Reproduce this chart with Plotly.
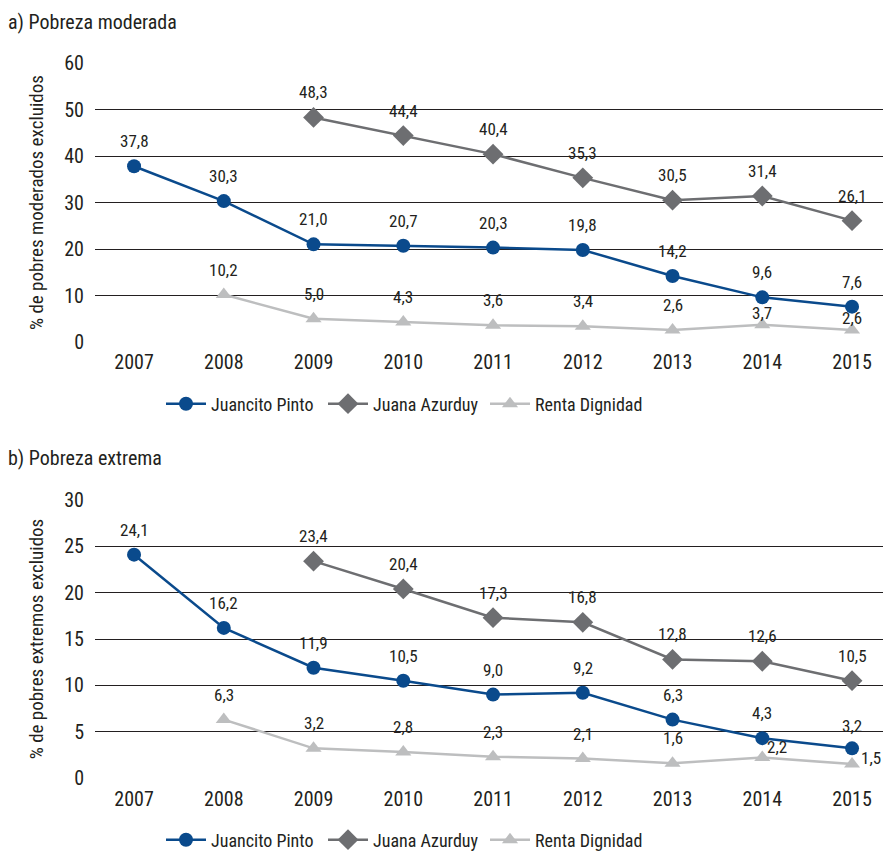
import plotly.graph_objects as go

# --- data ---
years = ['2007', '2008', '2009', '2010', '2011', '2012', '2013', '2014', '2015']

mod_juancito = [37.8, 30.3, 21.0, 20.7, 20.3, 19.8, 14.2, 9.6, 7.6]
mod_juana = [None, None, 48.3, 44.4, 40.4, 35.3, 30.5, 31.4, 26.1]
mod_renta = [None, 10.2, 5.0, 4.3, 3.6, 3.4, 2.6, 3.7, 2.6]

ext_juancito = [24.1, 16.2, 11.9, 10.5, 9.0, 9.2, 6.3, 4.3, 3.2]
ext_juana = [None, None, 23.4, 20.4, 17.3, 16.8, 12.8, 12.6, 10.5]
ext_renta = [None, 6.3, 3.2, 2.8, 2.3, 2.1, 1.6, 2.2, 1.5]

series_names = ['Juancito Pinto', 'Juana Azurduy', 'Renta Dignidad']

FONT = 'Liberation Sans Narrow, Roboto Condensed, Arial Narrow, sans-serif'
TXT = '#231f20'
COLORS = ['#0a4a8c', '#6d6e71', '#bdbebf']
SYMBOLS = ['circle', 'diamond', 'triangle-up']

W, H = 883, 851
L = 95


def py(pix):
    return 1 - pix / H


def px(pix):
    return (pix - L) / (W - L)


fig = go.Figure()

panels = [
    dict(vals=[mod_juancito, mod_juana, mod_renta], xa='x', ya='y', legend='legend',
         # label offsets (dx, dy) in px for special points
         offsets={(2, 7): (0, 12), (2, 8): (0, 12)}),
    dict(vals=[ext_juancito, ext_juana, ext_renta], xa='x2', ya='y2', legend='legend2',
         offsets={(2, 7): (15, 11), (2, 8): (19, 6), (0, 8): (0, 22)}),
]

annotations = []
for p in panels:
    for k, vals in enumerate(p['vals']):
        fig.add_trace(go.Scatter(
            x=years, y=vals, name=series_names[k], mode='lines+markers',
            line=dict(color=COLORS[k], width=2.5),
            marker=dict(symbol=SYMBOLS[k], size=14 if k != 1 else 16, color=COLORS[k]),
            xaxis=p['xa'], yaxis=p['ya'], legend=p['legend'],
        ))
        for i, v in enumerate(vals):
            if v is None:
                continue
            dx, dy = p['offsets'].get((k, i), (0, 25))
            annotations.append(dict(
                x=i, y=v, xref=p['xa'], yref=p['ya'],
                text=f'{v:.1f}'.replace('.', ','), showarrow=False,
                xshift=dx, yshift=dy, font=dict(size=17, color=TXT, family=FONT),
            ))

annotations.append(dict(text='a) Pobreza moderada', xref='paper', yref='paper',
                        x=px(6), y=py(22), xanchor='left', yanchor='middle', showarrow=False,
                        font=dict(size=20, color=TXT, family=FONT)))
annotations.append(dict(text='b) Pobreza extrema', xref='paper', yref='paper',
                        x=px(6), y=py(458), xanchor='left', yanchor='middle', showarrow=False,
                        font=dict(size=20, color=TXT, family=FONT)))

xrange = [-0.435, 8.345]
xaxis_style = dict(type='category', range=xrange, showgrid=False, showline=False,
                   zeroline=False, ticks='', tickfont=dict(size=20, color=TXT, family=FONT))
yaxis_style = dict(showgrid=True, gridcolor=TXT, gridwidth=1, zeroline=False,
                   showline=False, ticks='', tickfont=dict(size=20, color=TXT, family=FONT),
                   ticklabelstandoff=10,
                   title_font=dict(size=19, color=TXT, family=FONT), title_standoff=15)

legend_style = dict(orientation='h', xanchor='left', yanchor='middle', x=px(161),
                    entrywidth=107, font=dict(size=18, color=TXT, family=FONT),
                    bgcolor='rgba(0,0,0,0)', itemwidth=40)

fig.update_layout(
    width=W, height=H,
    margin=dict(l=L, r=0, t=0, b=0, autoexpand=False),
    paper_bgcolor='white', plot_bgcolor='white',
    font=dict(family=FONT, color=TXT),
    showlegend=True,
    xaxis=dict(domain=[0, 1], anchor='y', ticklabelstandoff=6, **xaxis_style),
    yaxis=dict(domain=[py(342), py(63)], range=[0, 60], dtick=10, anchor='x',
               title_text='% de pobres moderados excluidos', **yaxis_style),
    xaxis2=dict(domain=[0, 1], anchor='y2', ticklabelstandoff=7, **xaxis_style),
    yaxis2=dict(domain=[py(778), py(500)], range=[0, 30], dtick=5, anchor='x2',
                title_text='% de pobres extremos excluidos', **yaxis_style),
    legend=dict(y=py(404), **legend_style),
    legend2=dict(y=py(840), **legend_style),
    annotations=annotations,
)

# drop the default page margin so the 883x851 figure fills the window exactly
fig.write_html('out.html', config={'displayModeBar': False},
               post_script="document.body.style.margin = '0';")
